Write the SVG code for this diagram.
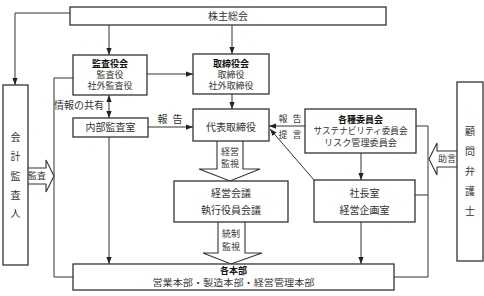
<svg xmlns="http://www.w3.org/2000/svg" width="484" height="296" viewBox="0 0 484 296">
<style>
.box{fill:#fff;stroke:#333;stroke-width:1.3}
.ln{fill:none;stroke:#333;stroke-width:1}
.blk{fill:#fff;stroke:#333;stroke-width:1.1;stroke-linejoin:miter}
text{font-family:'Noto Sans CJK JP','Noto Sans CJK SC',sans-serif;font-size:10px;fill:#333;text-anchor:middle}
.b{font-weight:bold;fill:#111}
.s{font-size:9px}
</style>
<defs>
<marker id="ah" viewBox="0 0 8 6" refX="8" refY="3" markerWidth="7" markerHeight="5.5" markerUnits="userSpaceOnUse" orient="auto-start-reverse">
<path d="M0,0 L8,3 L0,6 z" fill="#222"/>
</marker>
</defs>
<rect width="484" height="296" fill="#fff"/>

<g id="connectors">
<path class="ln" d="M70,13 H15 V85" marker-end="url(#ah)"/>
<path class="ln" d="M109,25 V55" marker-end="url(#ah)"/>
<path class="ln" d="M232,25 V54" marker-end="url(#ah)"/>
<path class="ln" d="M147,74 H193" marker-end="url(#ah)"/>
<path class="ln" d="M232,94 V109" marker-end="url(#ah)"/>
<path class="ln" d="M109,95 V118" marker-start="url(#ah)" marker-end="url(#ah)"/>
<path class="ln" d="M148,127 H193" marker-end="url(#ah)"/>
<path class="ln" d="M109,137 V264" marker-end="url(#ah)"/>
<path class="ln" d="M73,78 H54 V277 H73"/>
<path class="ln" d="M305,126 H269" marker-end="url(#ah)"/>
<path class="ln" d="M314,180 L270,129" marker-end="url(#ah)"/>
<path class="ln" d="M361,153 V180" marker-end="url(#ah)"/>
<path class="ln" d="M361,222 V264" marker-end="url(#ah)"/>
<path class="ln" d="M416,126 H428 V277 H394"/>
<path class="ln" d="M415,195 H428"/>
<path class="blk" d="M217,141 V169 H199 L230,181 L260,169 H243 V141"/>
<path class="blk" d="M218,222 V253 H203 L231,264 L262,253 H245 V222"/>
<path class="blk" d="M28,168 H46 V160 L54,176 L46,192 V184 H28"/>
<path class="blk" d="M457,151 H437 V143 L429,159 L437,175 V167 H457"/>
<text class="s" x="290" y="121.5" word-spacing="3">報 告</text>
<text class="s" x="290" y="137.5" word-spacing="3">提 言</text>
<text x="170" y="123" word-spacing="3">報 告</text>
<text x="79" y="108.5">情報の共有</text>
<text class="s" x="230" y="154.5">経営</text>
<text class="s" x="230" y="167">監視</text>
<text class="s" x="231" y="237">統制</text>
<text class="s" x="231" y="250">監視</text>
<text class="s" x="37" y="179.2">監査</text>
<text class="s" x="447" y="162.2">助言</text>
</g>

<g id="kabunushi">
<rect class="box" x="70" y="7" width="316" height="18"/>
<text x="228" y="19.5">株主総会</text>
</g>

<g id="kansayakukai">
<rect class="box" x="73" y="55" width="74" height="40"/>
<text class="b s" x="110" y="67.2">監査役会</text>
<text class="s" x="110" y="78.2">監査役</text>
<text class="s" x="110" y="89.2">社外監査役</text>
</g>

<g id="torishimariyakukai">
<rect class="box" x="193" y="54" width="76" height="40"/>
<text class="b s" x="231" y="66.7">取締役会</text>
<text class="s" x="231" y="77.7">取締役</text>
<text class="s" x="231" y="88.7">社外取締役</text>
</g>

<g id="naibukansa">
<rect class="box" x="73" y="118" width="75" height="19"/>
<text x="110.5" y="131">内部監査室</text>
</g>

<g id="daihyo">
<rect class="box" x="193" y="109" width="76" height="32"/>
<text x="231" y="130.5">代表取締役</text>
</g>

<g id="iinkai">
<rect class="box" x="305" y="109" width="111" height="44"/>
<text class="b s" x="360.5" y="123.2">各種委員会</text>
<text class="s" x="360.5" y="134.4" textLength="94" lengthAdjust="spacingAndGlyphs">サステナビリティ委員会</text>
<text class="s" x="360.5" y="145.6" textLength="73" lengthAdjust="spacingAndGlyphs">リスク管理委員会</text>
</g>

<g id="shachoshitsu">
<rect class="box" x="314" y="180" width="101" height="42"/>
<text x="364.5" y="196.5">社長室</text>
<text x="364.5" y="213.5">経営企画室</text>
</g>

<g id="keieikaigi">
<rect class="box" x="174" y="181" width="114" height="41"/>
<text x="231" y="196.5">経営会議</text>
<text x="231" y="213.5">執行役員会議</text>
</g>

<g id="kakuhonbu">
<rect class="box" x="73" y="264" width="321" height="26"/>
<text class="b s" x="233.5" y="274.2">各本部</text>
<text class="s" x="233.5" y="286.2" textLength="162" lengthAdjust="spacingAndGlyphs">営業本部・製造本部・経営管理本部</text>
</g>

<g id="kaikeikansanin">
<rect class="box" x="3" y="85" width="25" height="180"/>
<text x="15.5" y="140.5">会</text>
<text x="15.5" y="159.5">計</text>
<text x="15.5" y="179.5">監</text>
<text x="15.5" y="198.5">査</text>
<text x="15.5" y="216.5">人</text>
</g>

<g id="komonbengoshi">
<rect class="box" x="457" y="82" width="26" height="179"/>
<text x="470" y="134.5">顧</text>
<text x="470" y="154.5">問</text>
<text x="470" y="174.5">弁</text>
<text x="470" y="194.5">護</text>
<text x="470" y="214.5">士</text>
</g>
</svg>
